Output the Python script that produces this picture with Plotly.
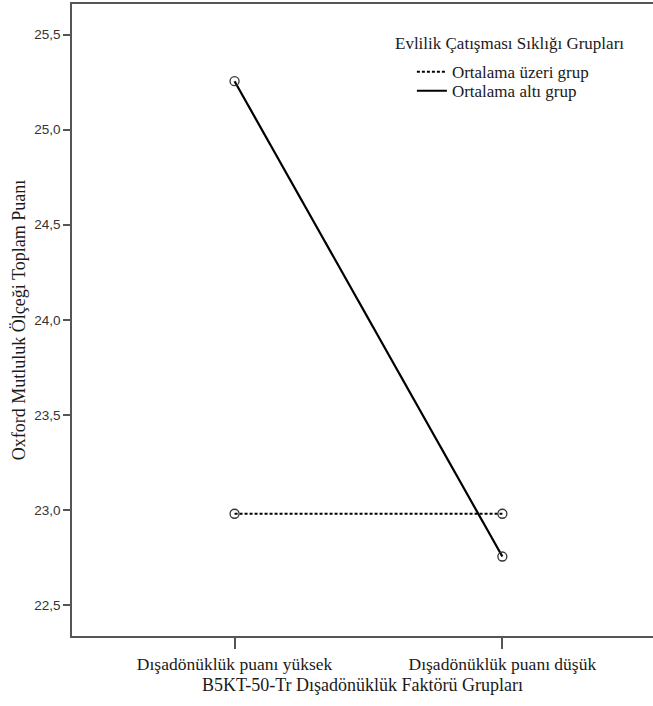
import plotly.graph_objects as go

categories = ["Dışadönüklük puanı yüksek", "Dışadönüklük puanı düşük"]
series_names = ["Ortalama üzeri grup", "Ortalama altı grup"]
above_avg = [22.98, 22.98]
below_avg = [25.255, 22.755]
y_ticks = [22.5, 23.0, 23.5, 24.0, 24.5, 25.0, 25.5]
y_tick_labels = ["22,5", "23,0", "23,5", "24,0", "24,5", "25,0", "25,5"]
legend_title = "Evlilik Çatışması Sıklığı Grupları"
x_title = "B5KT-50-Tr Dışadönüklük Faktörü Grupları"
y_title = "Oxford Mutluluk Ölçeği Toplam Puanı"

x_idx = list(range(len(categories)))
SERIF = "Liberation Serif"
TXT = "#1a1a1a"
dotted = dict(color="black", width=2, dash="3px,2px")
solid = dict(color="black", width=2.2)
mk = dict(symbol="circle-open", size=9, color="#333", line=dict(width=1.3))

fig = go.Figure()
fig.add_trace(go.Scatter(x=x_idx, y=above_avg, mode="lines+markers", showlegend=False,
                         line=dotted, marker=mk))
fig.add_trace(go.Scatter(x=x_idx, y=below_avg, mode="lines+markers", showlegend=False,
                         line=solid, marker=mk))
# legend-only entries (lines without markers), each in its own legend for tight spacing
fig.add_trace(go.Scatter(x=[None], y=[None], mode="lines", name=series_names[0],
                         line=dotted, legend="legend"))
fig.add_trace(go.Scatter(x=[None], y=[None], mode="lines", name=series_names[1],
                         line=solid, legend="legend2"))

leg_common = dict(xanchor="left", yanchor="middle", bgcolor="rgba(0,0,0,0)",
                  font=dict(family=SERIF, size=17, color=TXT), itemwidth=30)
fig.update_layout(
    width=653, height=706,
    margin=dict(l=72, r=0, t=4, b=70),
    paper_bgcolor="white", plot_bgcolor="white",
    font=dict(family=SERIF, size=17, color=TXT),
    legend=dict(x=0.585, y=0.892, **leg_common),
    legend2=dict(x=0.585, y=0.862, **leg_common),
    annotations=[dict(text=legend_title, x=0.5525, y=0.937,
                      xref="paper", yref="paper", xanchor="left", yanchor="middle",
                      showarrow=False, font=dict(family=SERIF, size=17, color=TXT))],
)
fig.update_xaxes(
    range=[-0.607, 1.5625], tickvals=x_idx, ticktext=categories,
    showline=True, linecolor="#555", linewidth=1.5, mirror=True,
    ticks="outside", ticklen=11, tickwidth=1.5, tickcolor="#555",
    showgrid=False, zeroline=False,
    tickfont=dict(family=SERIF, size=17.5, color=TXT),
    title=dict(text=x_title, font=dict(family=SERIF, size=18, color=TXT), standoff=6),
)
fig.update_yaxes(
    range=[22.337, 25.661], tickvals=y_ticks, ticktext=y_tick_labels,
    showline=True, linecolor="#555", linewidth=1.5, mirror=False,
    ticks="outside", ticklen=7, tickwidth=1.5, tickcolor="#555",
    showgrid=False, zeroline=False,
    tickfont=dict(family="Liberation Sans", size=13.5, color="#333"),
    title=dict(text=y_title, font=dict(family=SERIF, size=18, color=TXT), standoff=4),
)

fig.write_html("out.html", config={"displayModeBar": False},
               post_script="document.body.style.margin='0';document.body.style.overflow='hidden';")
